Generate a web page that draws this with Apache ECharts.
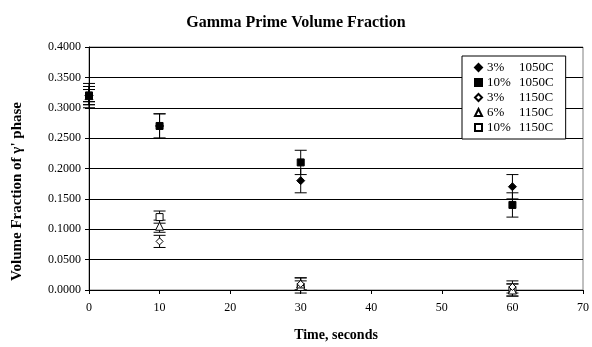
<!doctype html>
<html>
<head>
<meta charset="UTF-8">
<title>Gamma Prime Volume Fraction</title>
<script src="https://cdn.jsdelivr.net/npm/echarts@6/dist/echarts.min.js"></script>
<style>
  html, body { margin: 0; padding: 0; background: #fff; }
  #chart { width: 592px; height: 347px; }
</style>
</head>
<body>
<div id="chart"></div>
<script>
// time points (seconds)
var times = [0, 10, 30, 60];
// series names as in the legend
var names = ['3%  1050C', '10% 1050C', '3%  1150C', '6%  1150C', '10% 1150C'];
// volume fraction values
var v3_1050 = [0.32, 0.27, 0.18, 0.17];
var v10_1050 = [0.32, 0.27, 0.21, 0.14];
var v3_1150 = [0.32, 0.08, 0.01, 0.005];
var v6_1150 = [0.32, 0.105, 0.01, 0.0];
var v10_1150 = [0.32, 0.12, 0.005, 0.0];
// error bar half-heights
var e3_1050 = [0.02, 0.02, 0.02, 0.02];
var e10_1050 = [0.015, 0.02, 0.02, 0.02];
var e3_1150 = [0.01, 0.01, 0.01, 0.01];
var e6_1150 = [0.015, 0.01, 0.01, 0.01];
var e10_1150 = [0.01, 0.01, 0.01, 0.01];

var values = [v3_1050, v10_1050, v3_1150, v6_1150, v10_1150];
var errors = [e3_1050, e10_1050, e3_1150, e6_1150, e10_1150];
var symbols = ['diamond', 'rect', 'diamond', 'triangle', 'rect'];
var filled = [true, true, false, false, false];
var sizes = [8, 7, 7, 8, 7];

var font = '"Liberation Serif", "Times New Roman", serif';

function errorBar(params, api) {
  var x = api.value(0);
  var lo = api.coord([x, api.value(1) - api.value(2)]);
  var hi = api.coord([x, api.value(1) + api.value(2)]);
  var w = 6;
  var st = { stroke: '#000', lineWidth: 1 };
  return {
    type: 'group',
    children: [
      { type: 'line', shape: { x1: hi[0], y1: hi[1], x2: lo[0], y2: lo[1] }, style: st },
      { type: 'line', shape: { x1: hi[0] - w, y1: hi[1], x2: hi[0] + w, y2: hi[1] }, style: st },
      { type: 'line', shape: { x1: lo[0] - w, y1: lo[1], x2: lo[0] + w, y2: lo[1] }, style: st }
    ]
  };
}

var series = [];
for (var i = 0; i < names.length; i++) {
  var bars = [];
  for (var j = 0; j < times.length; j++) {
    bars.push([times[j], values[i][j], errors[i][j]]);
  }
  series.push({
    type: 'custom',
    name: names[i] + ' err',
    renderItem: errorBar,
    data: bars,
    z: 2,
    silent: true
  });
}
// first series drawn on top, like the original
for (var k = names.length - 1; k >= 0; k--) {
  var pts = [];
  for (var m = 0; m < times.length; m++) pts.push([times[m], values[k][m]]);
  series.push({
    type: 'scatter',
    name: names[k],
    symbol: symbols[k],
    symbolSize: sizes[k],
    data: pts,
    z: 3,
    itemStyle: {
      color: filled[k] ? '#000' : '#fff',
      borderColor: '#000',
      borderWidth: 1,
      opacity: 1
    }
  });
}

var chart = echarts.init(document.getElementById('chart'));
chart.setOption({
  animation: false,
  title: {
    text: 'Gamma Prime Volume Fraction',
    left: 'center',
    top: 10,
    textStyle: { fontFamily: font, fontSize: 16, fontWeight: 'bold', color: '#000' }
  },
  grid: {
    left: 89, right: 7, top: 47, bottom: 53,
    show: true, borderColor: '#808080', borderWidth: 1
  },
  legend: {
    data: names,
    orient: 'vertical',
    left: 462,
    top: 56,
    padding: [5, 12, 5, 12],
    itemGap: 2,
    itemWidth: 7,
    itemHeight: 7,
    backgroundColor: '#fff',
    borderColor: '#000',
    borderWidth: 1,
    formatter: function (n) {
      var p = n.split(/\s+/);
      return '{p|' + p[0] + '}{t|' + p[1] + '}';
    },
    textStyle: {
      fontFamily: font, fontSize: 13, color: '#000',
      rich: {
        p: { fontFamily: font, fontSize: 13, width: 32 },
        t: { fontFamily: font, fontSize: 13 }
      }
    }
  },
  xAxis: {
    type: 'value',
    min: 0, max: 70, interval: 10,
    name: 'Time, seconds',
    nameLocation: 'middle',
    nameGap: 38,
    nameTextStyle: { fontFamily: font, fontSize: 14, fontWeight: 'bold', color: '#000' },
    axisLine: { lineStyle: { color: '#000' } },
    axisTick: { show: true, length: 4, lineStyle: { color: '#000' } },
    axisLabel: { fontFamily: font, fontSize: 12, color: '#000', margin: 12 },
    splitLine: { show: false }
  },
  yAxis: {
    type: 'value',
    min: 0, max: 0.4, interval: 0.05,
    name: "Volume Fraction of \u03b3' phase",
    nameLocation: 'middle',
    nameGap: 64,
    nameTextStyle: {
      fontFamily: font, fontSize: 15, fontWeight: 'bold', color: '#000',
      padding: [0, 46, 0, 0]
    },
    axisLine: { show: true, lineStyle: { color: '#000' } },
    axisTick: { show: true, length: 4, lineStyle: { color: '#000' } },
    axisLabel: {
      fontFamily: font, fontSize: 12, color: '#000', margin: 8,
      formatter: function (v) { return v.toFixed(4); }
    },
    splitLine: { show: true, lineStyle: { color: '#000', width: 1 } }
  },
  series: series
});
</script>
</body>
</html>
